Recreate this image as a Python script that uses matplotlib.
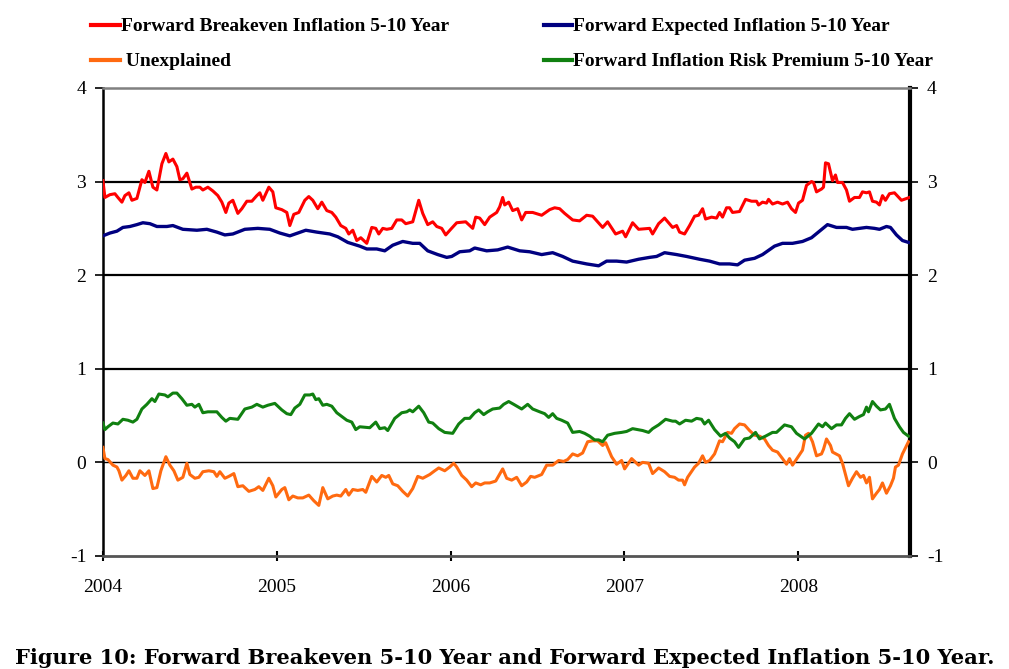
import numpy as np
import matplotlib
matplotlib.use("Agg")
import matplotlib.pyplot as plt

# weeks since 2004-01-01, values in percent
red_wk = [0, 0.6, 2.1, 3.6, 4.5, 5.7, 6.6, 7.8, 8.7, 10.2, 11.7, 12.6, 13.8, 15.0, 16.2, 17.7, 18.9, 19.8,
          21.0, 22.2, 23.1, 24.0, 25.2, 26.7, 27.9, 29.1, 30.0, 31.5, 33.0, 34.5, 35.7, 36.9, 37.8, 39.0,
          40.5, 41.7, 43.2, 44.7, 46.2, 47.1, 48.0, 49.8, 51.0, 51.9, 53.7, 55.2, 56.1, 57.3, 58.8, 60.6,
          61.8, 63.0, 64.5, 65.7, 67.2, 68.7, 69.9, 71.4, 72.9, 73.8, 75.0, 76.2, 77.4, 79.2, 80.7, 81.9,
          82.8, 84.0, 85.2, 86.7, 88.2, 89.7, 90.9, 93.0, 94.8, 96.0, 97.5, 99.0, 100.2, 101.7, 102.9,
          104.4, 106.2, 108.9, 111.0, 111.9, 113.1, 114.6, 116.1, 118.2, 119.1, 120.0, 120.6, 121.8,
          123.0, 124.5, 125.7, 126.9, 129.0, 131.7, 134.1, 135.6, 137.1, 138.6, 141.0, 143.1, 145.2,
          147.0, 150.0, 151.5, 153.9, 156.0, 156.9, 159.0, 160.8, 164.1, 165.0, 166.8, 168.6, 171.0,
          172.2, 173.1, 174.6, 176.1, 177.6, 178.8, 180.0, 180.9, 182.7, 184.2, 185.1, 186.0, 187.2,
          188.1, 189.0, 191.1, 192.9, 194.7, 196.2, 196.8, 198.0, 199.2, 199.8, 201.0, 202.5, 204.0,
          205.5, 206.7, 207.9, 208.8, 210.0, 211.2, 212.7, 213.3, 214.2, 215.7, 216.3, 216.9, 217.8,
          219.0, 219.9, 220.5, 222.0, 223.2, 224.1, 225.6, 227.1, 228.0, 229.2, 230.1, 231.0, 232.2,
          233.1, 234.0, 234.9, 236.1, 237.6, 239.7, 242.1]
red_val = [3.01, 2.83, 2.86, 2.87, 2.83, 2.78, 2.85, 2.88, 2.80, 2.82, 3.02, 2.99, 3.11, 2.94, 2.91, 3.19,
           3.30, 3.21, 3.24, 3.16, 3.02, 3.03, 3.09, 2.92, 2.94, 2.94, 2.91, 2.94, 2.90, 2.85, 2.78, 2.67,
           2.77, 2.80, 2.66, 2.71, 2.79, 2.79, 2.85, 2.88, 2.80, 2.94, 2.89, 2.72, 2.70, 2.67, 2.53, 2.65,
           2.67, 2.80, 2.84, 2.80, 2.71, 2.78, 2.69, 2.67, 2.62, 2.53, 2.50, 2.44, 2.48, 2.37, 2.40, 2.34,
           2.51, 2.50, 2.44, 2.50, 2.49, 2.50, 2.59, 2.59, 2.55, 2.57, 2.80, 2.66, 2.54, 2.57, 2.52, 2.50,
           2.43, 2.49, 2.56, 2.57, 2.50, 2.62, 2.61, 2.54, 2.62, 2.67, 2.73, 2.83, 2.75, 2.78, 2.69, 2.71,
           2.59, 2.67, 2.67, 2.64, 2.70, 2.72, 2.71, 2.66, 2.59, 2.58, 2.64, 2.63, 2.51, 2.57, 2.44, 2.47,
           2.41, 2.56, 2.49, 2.50, 2.44, 2.55, 2.61, 2.51, 2.53, 2.46, 2.44, 2.53, 2.63, 2.64, 2.71, 2.60,
           2.62, 2.61, 2.67, 2.62, 2.72, 2.72, 2.67, 2.68, 2.81, 2.79, 2.79, 2.75, 2.78, 2.77, 2.81, 2.76,
           2.78, 2.76, 2.78, 2.71, 2.67, 2.77, 2.80, 2.96, 3.00, 2.99, 2.89, 2.92, 2.94, 3.20, 3.19, 3.01,
           3.07, 2.99, 2.99, 2.91, 2.79, 2.83, 2.83, 2.89, 2.88, 2.89, 2.79, 2.78, 2.75, 2.85, 2.80, 2.87,
           2.88, 2.80, 2.83]

blue_wk = [0, 2.1, 4.2, 6.0, 8.1, 10.2, 12.0, 14.1, 16.2, 19.2, 21.0, 24.0, 28.2, 31.2, 34.2, 36.6, 39.0,
           42.6, 46.5, 50.1, 53.1, 56.1, 58.5, 60.9, 64.2, 68.1, 70.5, 73.5, 77.1, 79.2, 82.2, 84.6, 87.0,
           90.0, 93.0, 95.1, 97.5, 100.5, 103.2, 104.7, 107.1, 110.1, 111.6, 115.2, 118.5, 121.5, 125.1,
           128.1, 131.7, 135.0, 138.0, 141.0, 145.2, 148.8, 151.2, 154.2, 157.2, 160.8, 164.1, 166.2,
           168.6, 172.2, 175.2, 179.1, 182.1, 185.1, 188.1, 190.5, 192.6, 195.6, 198.0, 201.6, 204.0,
           207.0, 210.0, 212.7, 215.1, 217.5, 220.2, 223.2, 225.0, 229.2, 231.6, 233.1, 235.2, 236.4,
           238.2, 240.0, 241.8]
blue_val = [2.42, 2.45, 2.47, 2.51, 2.52, 2.54, 2.56, 2.55, 2.52, 2.52, 2.53, 2.49, 2.48, 2.49, 2.46, 2.43,
            2.44, 2.49, 2.50, 2.49, 2.45, 2.42, 2.45, 2.48, 2.46, 2.44, 2.41, 2.35, 2.31, 2.28, 2.28, 2.26,
            2.32, 2.36, 2.34, 2.34, 2.26, 2.22, 2.19, 2.20, 2.25, 2.26, 2.29, 2.26, 2.27, 2.30, 2.26, 2.25,
            2.22, 2.24, 2.20, 2.15, 2.12, 2.10, 2.15, 2.15, 2.14, 2.17, 2.19, 2.20, 2.24, 2.22, 2.20, 2.17,
            2.15, 2.12, 2.12, 2.11, 2.16, 2.18, 2.22, 2.31, 2.34, 2.34, 2.36, 2.40, 2.47, 2.54, 2.51, 2.51,
            2.49, 2.51, 2.50, 2.49, 2.52, 2.51, 2.43, 2.37, 2.35]

green_wk = [0, 0.6, 1.5, 3.0, 4.5, 6.0, 7.5, 9.0, 10.2, 11.7, 13.2, 14.7, 15.6, 16.8, 18.6, 19.5, 21.0,
            22.2, 23.7, 25.2, 26.7, 27.6, 28.8, 30.0, 31.5, 34.2, 35.7, 36.9, 38.1, 40.5, 42.6, 44.7,
            46.2, 48.0, 49.5, 51.6, 53.7, 55.2, 56.4, 57.6, 59.1, 60.6, 62.1, 63.0, 63.9, 64.8, 66.0,
            67.2, 68.7, 70.2, 73.2, 74.7, 75.9, 77.1, 80.1, 81.9, 83.1, 84.6, 85.5, 87.6, 89.7, 91.2,
            92.1, 93.0, 94.8, 96.3, 97.8, 99.0, 100.8, 102.6, 105.0, 106.8, 108.6, 110.1, 111.6, 112.8,
            114.3, 115.5, 117.0, 119.1, 120.3, 121.8, 123.3, 125.7, 127.5, 129.0, 131.1, 132.6, 133.8,
            135.0, 136.2, 137.7, 139.5, 141.0, 143.1, 144.6, 146.1, 147.6, 148.8, 150.0, 151.5, 153.6,
            155.7, 157.2, 159.0, 162.0, 163.8, 165.0, 166.8, 168.9, 171.0, 171.9, 173.1, 174.9, 176.7,
            178.2, 179.7, 180.6, 181.8, 183.6, 185.4, 186.9, 188.1, 189.6, 190.8, 192.6, 194.1, 195.9,
            197.1, 198.9, 201.0, 202.2, 204.6, 206.7, 208.2, 210.6, 212.7, 214.8, 216.0, 216.9, 218.7,
            220.2, 221.7, 222.9, 224.1, 225.6, 227.1, 228.3, 229.2, 229.8, 231.0, 232.2, 233.4, 234.9,
            236.1, 237.6, 239.1, 240.3, 241.8]
green_val = [0.42, 0.35, 0.38, 0.42, 0.41, 0.46, 0.45, 0.43, 0.46, 0.57, 0.62, 0.68, 0.65, 0.73, 0.72, 0.70,
             0.74, 0.74, 0.68, 0.61, 0.62, 0.59, 0.62, 0.53, 0.54, 0.54, 0.48, 0.44, 0.47, 0.46, 0.57, 0.59,
             0.62, 0.59, 0.61, 0.63, 0.56, 0.52, 0.51, 0.58, 0.62, 0.72, 0.72, 0.73, 0.67, 0.68, 0.61, 0.62,
             0.60, 0.53, 0.45, 0.43, 0.35, 0.38, 0.37, 0.43, 0.36, 0.37, 0.34, 0.47, 0.53, 0.54, 0.56, 0.54,
             0.60, 0.53, 0.43, 0.42, 0.36, 0.32, 0.31, 0.41, 0.47, 0.47, 0.53, 0.56, 0.51, 0.54, 0.57, 0.58,
             0.62, 0.65, 0.62, 0.57, 0.62, 0.57, 0.54, 0.52, 0.48, 0.52, 0.47, 0.45, 0.42, 0.32, 0.33, 0.31,
             0.28, 0.24, 0.24, 0.22, 0.29, 0.31, 0.32, 0.33, 0.36, 0.34, 0.32, 0.36, 0.40, 0.46, 0.44, 0.44,
             0.41, 0.45, 0.44, 0.47, 0.46, 0.41, 0.45, 0.35, 0.28, 0.31, 0.26, 0.22, 0.16, 0.25, 0.26, 0.32,
             0.25, 0.28, 0.32, 0.32, 0.40, 0.38, 0.31, 0.25, 0.31, 0.41, 0.38, 0.42, 0.36, 0.40, 0.40, 0.47,
             0.52, 0.46, 0.49, 0.51, 0.59, 0.54, 0.65, 0.60, 0.56, 0.57, 0.62, 0.47, 0.38, 0.32, 0.28]

orange_wk = [0, 0.6, 1.5, 3.0, 4.2, 4.8, 5.7, 6.9, 7.8, 9.0, 10.2, 11.1, 12.6, 13.8, 15.0, 16.2, 17.4,
             18.9, 20.1, 21.3, 22.5, 24.0, 25.2, 26.1, 27.6, 28.8, 30.0, 31.8, 33.3, 34.2, 35.1, 36.6,
             37.8, 39.3, 40.5, 42.0, 43.8, 45.6, 46.8, 48.0, 49.8, 51.0, 51.9, 53.7, 54.6, 55.8, 57.0,
             58.5, 60.0, 61.8, 63.3, 64.8, 66.0, 67.5, 69.0, 70.2, 71.4, 72.9, 73.8, 75.0, 76.5, 78.0,
             78.9, 80.7, 82.2, 83.7, 84.9, 85.8, 87.0, 88.5, 90.0, 91.5, 93.0, 94.5, 96.0, 98.1, 99.6,
             100.8, 102.6, 104.1, 105.3, 106.2, 107.7, 109.2, 110.7, 111.9, 113.4, 114.6, 116.1, 117.9,
             120.0, 121.2, 122.7, 124.2, 125.7, 127.2, 128.4, 129.6, 131.7, 133.2, 135.0, 136.8, 138.3,
             139.5, 141.0, 142.5, 144.0, 145.5, 147.0, 148.5, 150.0, 150.9, 152.7, 154.2, 155.7, 156.6,
             158.7, 159.9, 160.8, 162.0, 163.8, 165.0, 166.8, 168.6, 170.1, 171.6, 172.8, 174.0, 174.6,
             175.5, 177.6, 178.8, 180.0, 180.9, 182.1, 183.6, 185.1, 186.0, 187.5, 188.7, 189.6, 191.1,
             192.6, 194.1, 195.6, 197.1, 198.6, 199.8, 201.0, 202.5, 204.0, 205.2, 206.1, 207.0, 208.5,
             210.0, 210.9, 211.8, 213.0, 214.2, 215.7, 216.3, 217.2, 218.4, 219.0, 221.1, 222.0, 223.8,
             225.0, 226.2, 227.4, 228.3, 229.2, 230.1, 231.0, 232.2, 233.1, 234.0, 235.2, 236.4, 237.3,
             237.9, 238.8, 240.0, 241.8]
orange_val = [0.16, 0.04, 0.03, -0.03, -0.05, -0.09, -0.19, -0.14, -0.09, -0.17, -0.17, -0.09, -0.14, -0.09,
              -0.28, -0.27, -0.09, 0.06, -0.03, -0.09, -0.19, -0.16, -0.01, -0.13, -0.17, -0.16, -0.10,
              -0.09, -0.10, -0.15, -0.10, -0.17, -0.15, -0.12, -0.26, -0.25, -0.31, -0.29, -0.26, -0.30,
              -0.17, -0.25, -0.37, -0.29, -0.27, -0.40, -0.36, -0.38, -0.38, -0.35, -0.41, -0.46, -0.27,
              -0.39, -0.36, -0.35, -0.36, -0.29, -0.35, -0.29, -0.30, -0.29, -0.32, -0.15, -0.21, -0.14,
              -0.16, -0.14, -0.23, -0.25, -0.31, -0.36, -0.28, -0.15, -0.17, -0.13, -0.09, -0.06, -0.09,
              -0.05, -0.01, -0.05, -0.14, -0.19, -0.26, -0.22, -0.24, -0.22, -0.22, -0.20, -0.07, -0.17,
              -0.19, -0.16, -0.25, -0.21, -0.15, -0.16, -0.13, -0.03, -0.03, 0.02, 0.01, 0.03, 0.09, 0.07,
              0.10, 0.22, 0.23, 0.23, 0.18, 0.21, 0.06, -0.02, 0.02, -0.07, 0.04, 0.00, -0.03, 0.00, -0.01,
              -0.12, -0.06, -0.10, -0.15, -0.16, -0.19, -0.19, -0.24, -0.16, -0.05, -0.01, 0.07, 0.00, 0.02,
              0.09, 0.23, 0.22, 0.32, 0.31, 0.36, 0.41, 0.40, 0.34, 0.29, 0.28, 0.25, 0.18, 0.13, 0.11, 0.04,
              -0.02, 0.04, -0.03, 0.05, 0.13, 0.29, 0.31, 0.22, 0.07, 0.09, 0.14, 0.25, 0.18, 0.11, 0.07,
              -0.01, -0.25, -0.17, -0.10, -0.16, -0.14, -0.22, -0.16, -0.39, -0.33, -0.29, -0.22, -0.33,
              -0.25, -0.17, -0.05, -0.03, 0.09, 0.22]

years = [2004, 2005, 2006, 2007, 2008]
y_ticks = [-1, 0, 1, 2, 3, 4]


def to_year(weeks):
    return 2004 + np.array(weeks) / 52.18


serif = "Liberation Serif"

fig = plt.figure(figsize=(10.09, 6.69), dpi=100)
ax = fig.add_axes([0.102, 0.169, 0.8, 0.6995])

ax.plot(to_year(red_wk), red_val, color="#ff0000", lw=2.2, label="Forward Breakeven Inflation 5-10 Year", zorder=4)
ax.plot(to_year(orange_wk), orange_val, color="#ff6a10", lw=2.2, label=" Unexplained", zorder=4)
ax.plot(to_year(blue_wk), blue_val, color="#000080", lw=2.4, label="Forward Expected Inflation 5-10 Year", zorder=4)
ax.plot(to_year(green_wk), green_val, color="#108010", lw=2.2, label="Forward Inflation Risk Premium 5-10 Year", zorder=4)

# horizontal reference lines
for v in [1, 2, 3]:
    ax.axhline(v, color="black", lw=1.6, zorder=2)
ax.axhline(0, color="black", lw=1.0, zorder=2)

ax.set_xlim(2004.0, to_year([242.3])[0])
ax.set_ylim(-1, 4)
ax.set_xticks(years)
ax.set_xticklabels([str(y) for y in years], fontfamily=serif, fontsize=14)
ax.set_yticks(y_ticks)
ax.set_yticklabels([str(v) for v in y_ticks], fontfamily=serif, fontsize=14)
ax.tick_params(axis="y", which="both", left=True, right=True, labelleft=True, labelright=True,
               direction="out", length=6, width=1.2, pad=6)
ax.tick_params(axis="x", direction="inout", length=7, width=1.5, pad=13)

ax.spines["left"].set_linewidth(1.8)
ax.spines["right"].set_linewidth(3.0)
ax.spines["top"].set_color("#808080")
ax.spines["top"].set_linewidth(1.8)
ax.spines["bottom"].set_color("#555555")
ax.spines["bottom"].set_linewidth(2.0)

leg = ax.legend(loc="lower left", bbox_to_anchor=(-0.036, 1.0), ncol=2, frameon=False,
                handlelength=1.45, handletextpad=0.05, columnspacing=4.9, labelspacing=0.9,
                prop={"family": serif, "weight": "bold", "size": 14})
for line in leg.get_lines():
    line.set_linewidth(3)

fig.text(0.5, 1 - 658 / 669, "Figure 10: Forward Breakeven 5-10 Year and Forward Expected Inflation 5-10 Year.",
         ha="center", va="center", fontfamily="DejaVu Serif", fontweight="bold", fontsize=15.1)

fig.savefig("out.png", dpi=100)
